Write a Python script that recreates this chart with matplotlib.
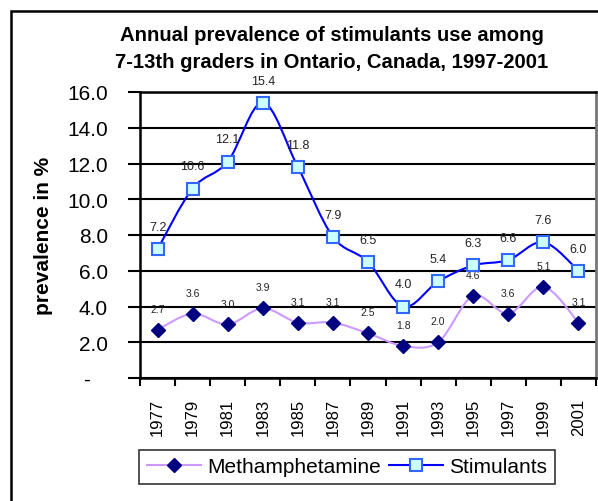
import matplotlib
matplotlib.use("Agg")
import matplotlib.pyplot as plt
from matplotlib.path import Path
from matplotlib.patches import PathPatch, Rectangle
from matplotlib.lines import Line2D
from matplotlib.ticker import FuncFormatter, MultipleLocator

plt.rcParams['font.family'] = ['Liberation Sans', 'DejaVu Sans']

years = ['1977', '1979', '1981', '1983', '1985', '1987', '1989',
         '1991', '1993', '1995', '1997', '1999', '2001']
meth = [2.7, 3.6, 3.0, 3.9, 3.1, 3.1, 2.5, 1.8, 2.0, 4.6, 3.6, 5.1, 3.1]
stim = [7.2, 10.6, 12.1, 15.4, 11.8, 7.9, 6.5, 4.0, 5.4, 6.3, 6.6, 7.6, 6.0]

title = "Annual prevalence of stimulants use among\n7-13th graders in Ontario, Canada, 1997-2001"


def smooth_path(xs, ys):
    # excel-like smoothed line: bezier segments through the points
    pts = list(zip(xs, ys))
    verts = [pts[0]]
    codes = [Path.MOVETO]
    n = len(pts)
    for i in range(n - 1):
        p0 = pts[i - 1] if i > 0 else pts[i]
        p1 = pts[i]
        p2 = pts[i + 1]
        p3 = pts[i + 2] if i + 2 < n else pts[i + 1]
        c1 = (p1[0] + (p2[0] - p0[0]) / 6, p1[1] + (p2[1] - p0[1]) / 6)
        c2 = (p2[0] - (p3[0] - p1[0]) / 6, p2[1] - (p3[1] - p1[1]) / 6)
        verts += [c1, c2, p2]
        codes += [Path.CURVE4] * 3
    return Path(verts, codes)


fig = plt.figure(figsize=(5.98, 5.02), dpi=100)
ax = fig.add_axes([140 / 598, 1 - 379 / 502, (596 - 140) / 598, (379 - 93) / 502])

x = list(range(len(years)))

meth_color = '#CC99FF'
stim_color = '#0000FF'

ax.add_patch(PathPatch(smooth_path(x, meth), fill=False, edgecolor=meth_color, lw=1.5, zorder=3))
ax.add_patch(PathPatch(smooth_path(x, stim), fill=False, edgecolor=stim_color, lw=1.5, zorder=3))
ax.plot(x, meth, linestyle='none', marker='D', markersize=7, color='#000080', zorder=4)
ax.plot(x, stim, linestyle='none', marker='s', markersize=8, markerfacecolor='#CCFFFF',
        markeredgecolor='#3366FF', markeredgewidth=1.5, zorder=4)

for xi, v in zip(x, meth):
    ax.annotate(f'{v:.1f}', (xi, v), xytext=(0, 15), textcoords='offset points',
                ha='center', va='center', fontsize=7.5, color='#222222')
for xi, v in zip(x, stim):
    ax.annotate(f'{v:.1f}', (xi, v), xytext=(0, 16), textcoords='offset points',
                ha='center', va='center', fontsize=9, color='#222222')

ax.set_xlim(-0.5, len(years) - 0.5)
ax.set_ylim(0, 16)
ax.yaxis.set_major_locator(MultipleLocator(2))
ax.yaxis.set_major_formatter(FuncFormatter(lambda v, p: '-   ' if v == 0 else f'{v:.1f}'))
ax.grid(axis='y', color='black', lw=1.5)
ax.set_axisbelow(True)

ax.set_xticks(x)
ax.set_xticklabels(years, rotation=90, fontsize=12)
ax.set_xticks([i - 0.5 for i in range(len(years) + 1)], minor=True)
ax.tick_params(axis='x', which='major', length=0, pad=14)
ax.tick_params(axis='x', which='minor', length=6, width=1.5, direction='out')
ax.tick_params(axis='y', length=9, width=1.5, direction='out', labelsize=15, pad=14)

for s in ['left', 'bottom', 'top']:
    ax.spines[s].set_linewidth(1.8)
    ax.spines[s].set_color('black')
ax.spines['right'].set_color('#777777')
ax.spines['right'].set_linewidth(2)

ax.set_ylabel('prevalence in %', fontsize=15, fontweight='bold')
ax.yaxis.set_label_coords(-0.19, 0.5)

fig.text(332 / 598, 1 - 49 / 502, title, ha='center', va='center', fontsize=14.6,
         fontweight='bold', linespacing=1.5)

handles = [
    Line2D([], [], color=meth_color, lw=1.5, marker='D', markersize=7,
           markerfacecolor='#000080', markeredgecolor='#000080'),
    Line2D([], [], color=stim_color, lw=1.5, marker='s', markersize=8,
           markerfacecolor='#CCFFFF', markeredgecolor='#3366FF', markeredgewidth=1.5),
]
leg = fig.legend(handles, ['Methamphetamine', 'Stimulants'], loc='center',
                 bbox_to_anchor=(347 / 598, 1 - 468 / 502), ncol=2, fontsize=15,
                 frameon=True, fancybox=False, edgecolor='black', handlelength=2.6,
                 handletextpad=0.3, columnspacing=0.4, borderpad=0.35)
leg.get_frame().set_linewidth(1.2)

# outer chart border
fig.patches.append(Rectangle((11 / 598, -0.05), 1.1, 1 - 12 / 502 + 0.05,
                             transform=fig.transFigure, fill=False,
                             edgecolor='black', lw=1.8))

fig.savefig('out.png', dpi=100)
